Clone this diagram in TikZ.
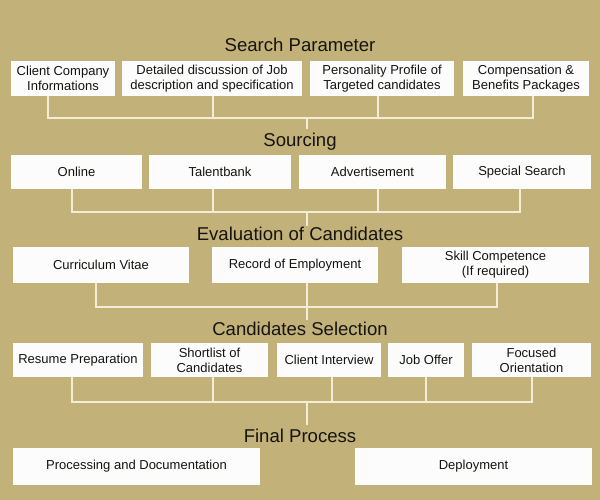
\documentclass[tikz,border=0pt]{standalone}
\usepackage{fontspec}
\setmainfont{Liberation Sans}
\usepackage{xcolor}
\usepackage{tikz}

\definecolor{bgtan}{RGB}{194,177,120}
\definecolor{linecream}{RGB}{244,236,212}
\definecolor{boxwhite}{RGB}{252,252,253}
\definecolor{inkdark}{RGB}{22,20,16}

\begin{document}
\begin{tikzpicture}[
    x=0.025cm, y=-0.025cm,
    stagenode/.style={
        anchor=base, inner sep=0pt, text=inkdark,
        font=\fontsize{13.2}{15}\selectfont
    },
    itemnode/.style={
        rectangle, fill=boxwhite, inner sep=1pt, text=inkdark,
        align=center, font=\fontsize{9.25}{10.7}\selectfont
    },
    link/.style={draw=linecream, line width=1.05pt}
]
% Background
\fill[bgtan] (0,0) rectangle (600,500);
\useasboundingbox (0,0) rectangle (600,500);

% Stage titles
\node[stagenode] (search) at (300, 52)  {Search Parameter};
\node[stagenode] (source) at (300, 146) {Sourcing};
\node[stagenode] (evalc)  at (300, 240) {Evaluation of Candidates};
\node[stagenode] (select) at (300, 335) {Candidates Selection};
\node[stagenode] (final)  at (300, 442) {Final Process};

% Search parameter row
\node[itemnode, minimum width=2.6cm,  minimum height=0.875cm] (cc)   at (63, 78.5)  {Client Company\\Informations};
\node[itemnode, minimum width=4.5cm,  minimum height=0.875cm] (det)  at (212, 78.5) {Detailed discussion of Job\\description and specification};
\node[itemnode, minimum width=3.6cm,  minimum height=0.875cm] (pers) at (382, 78.5) {Personality Profile of\\Targeted candidates};
\node[itemnode, minimum width=3.15cm, minimum height=0.875cm] (comp) at (526, 78.5) {Compensation \&\\Benefits Packages};

% Sourcing row
\node[itemnode, minimum width=3.275cm, minimum height=0.85cm] (online)  at (76.5, 172)  {Online};
\node[itemnode, minimum width=3.55cm,  minimum height=0.85cm] (talent)  at (220, 172)   {Talentbank};
\node[itemnode, minimum width=3.675cm, minimum height=0.85cm] (advert)  at (372.5, 172) {Advertisement};
\node[itemnode, minimum width=3.45cm,  minimum height=0.85cm] (special) at (522, 172)   {Special Search};

% Evaluation row
\node[itemnode, minimum width=4.4cm,   minimum height=0.9cm] (cv)     at (101, 265)   {Curriculum Vitae};
\node[itemnode, minimum width=4.15cm,  minimum height=0.9cm] (record) at (295, 265)   {Record of Employment};
\node[itemnode, minimum width=4.675cm, minimum height=0.9cm] (skill)  at (495.5, 265) {Skill Competence\\(If required)};

% Selection row
\node[itemnode, minimum width=3.25cm,  minimum height=0.85cm] (resume)    at (78, 360)    {Resume Preparation};
\node[itemnode, minimum width=2.925cm, minimum height=0.85cm] (shortlist) at (209.5, 360) {Shortlist of\\Candidates};
\node[itemnode, minimum width=2.6cm,   minimum height=0.85cm] (interview) at (329, 360)   {Client Interview};
\node[itemnode, minimum width=1.9cm,   minimum height=0.85cm] (offer)     at (426, 360)   {Job Offer};
\node[itemnode, minimum width=2.975cm, minimum height=0.85cm] (focused)   at (531.5, 360) {Focused\\Orientation};

% Final row
\node[itemnode, minimum width=6.175cm, minimum height=0.925cm] (proc)   at (136.5, 466.5) {Processing and Documentation};
\node[itemnode, minimum width=5.925cm, minimum height=0.925cm] (deploy) at (473.5, 466.5) {Deployment};

% Bus taps
\coordinate (spA) at (48, 118);  \coordinate (spB) at (213, 118);
\coordinate (spC) at (378, 118); \coordinate (spD) at (533, 118);
\coordinate (spS) at (307, 118); \coordinate (spE) at (307, 129);
\coordinate (soA) at (72, 212);  \coordinate (soB) at (213, 212);
\coordinate (soC) at (378, 212); \coordinate (soD) at (520, 212);
\coordinate (soS) at (307, 212); \coordinate (soE) at (307, 226);
\coordinate (evA) at (96, 307);  \coordinate (evB) at (307, 307);
\coordinate (evC) at (497, 307); \coordinate (evE) at (307, 320);
\coordinate (csA) at (72, 402);  \coordinate (csB) at (213, 402);
\coordinate (csC) at (332, 402); \coordinate (csD) at (426, 402);
\coordinate (csE) at (532, 402); \coordinate (csS) at (307, 402);
\coordinate (csF) at (307, 425);

% Search parameter connectors
\draw[link] (cc.south -| spA) -- (spA) -- (spD) -- (comp.south -| spD);
\draw[link] (det.south -| spB) -- (spB);
\draw[link] (pers.south -| spC) -- (spC);
\draw[link] (spS) -- (spE);

% Sourcing connectors
\draw[link] (online.south -| soA) -- (soA) -- (soD) -- (special.south -| soD);
\draw[link] (talent.south -| soB) -- (soB);
\draw[link] (advert.south -| soC) -- (soC);
\draw[link] (soS) -- (soE);

% Evaluation connectors
\draw[link] (cv.south -| evA) -- (evA) -- (evC) -- (skill.south -| evC);
\draw[link] (record.south -| evB) -- (evE);

% Selection connectors
\draw[link] (resume.south -| csA) -- (csA) -- (csE) -- (focused.south -| csE);
\draw[link] (shortlist.south -| csB) -- (csB);
\draw[link] (interview.south -| csC) -- (csC);
\draw[link] (offer.south -| csD) -- (csD);
\draw[link] (csS) -- (csF);
\end{tikzpicture}
\end{document}
